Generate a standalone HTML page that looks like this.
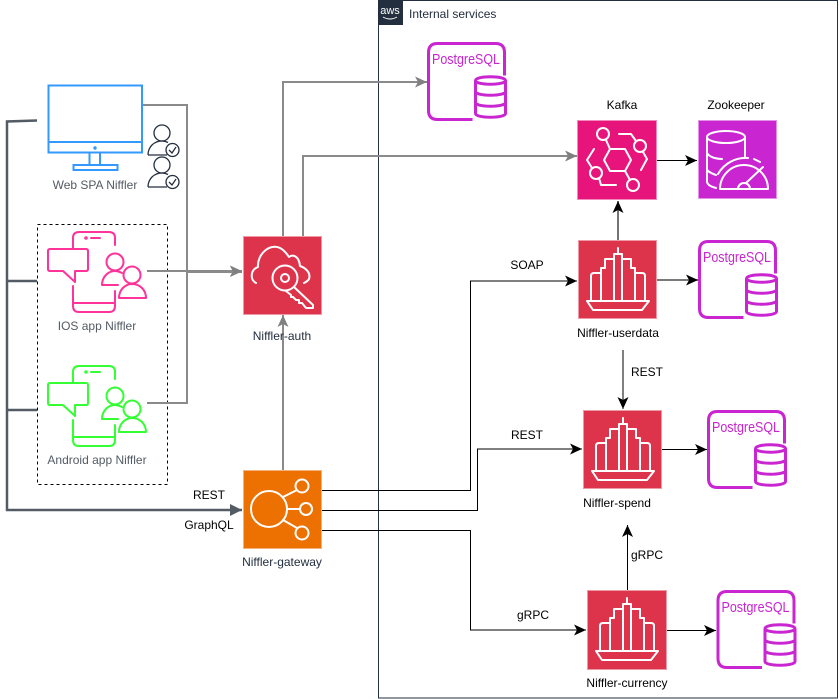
<!DOCTYPE html>
<html><head><meta charset="utf-8"><style>
html,body{margin:0;padding:0;background:#fff}
svg{display:block}
text{font-family:"Liberation Sans",sans-serif;font-size:12px;text-anchor:middle;fill:#000}
.g{fill:#545B64}.d{fill:#232F3E}
.pg{font-size:15px;fill:#C925D1;text-anchor:start}
.ic{fill:none;stroke:#fff;stroke-width:2;stroke-linejoin:round;stroke-linecap:round}
</style></head><body>
<svg width="839" height="699" viewBox="0 0 839 699" xmlns="http://www.w3.org/2000/svg">
<defs>
<marker id="k" markerUnits="userSpaceOnUse" markerWidth="14" markerHeight="12" refX="12" refY="6" orient="auto"><path d="M0,.5 L12,6 L0,11.500 L3,6Z" fill="#000"/></marker>
<marker id="y" markerUnits="userSpaceOnUse" markerWidth="14" markerHeight="12" refX="12" refY="6" orient="auto"><path d="M0,.5 L12,6 L0,11.500 L3,6Z" fill="#808080"/></marker>
<marker id="n" markerUnits="userSpaceOnUse" markerWidth="16" markerHeight="14" refX="13" refY="7" orient="auto"><path d="M1,1 L13,7 L1,13 Z" fill="#545B64"/></marker>
<g id="phone" fill="none" stroke="currentColor" stroke-width="2" stroke-linejoin="round" stroke-linecap="round">
<path d="M73,383V372Q73,366 79,366H109Q115,366 115,372V379"/>
<circle cx="86" cy="372" r=".8"/><path d="M91,372H100"/>
<path d="M73,420V440Q73,446 79,446H109Q115,446 115,440V425M73,437H115"/>
<path d="M50,383H86Q88,383 88,385V403Q88,405 86,405H75V416L63,405H50Q48,405 48,403V385Q48,383 50,383Z"/>
<circle cx="115" cy="396" r="8.500"/><path d="M102,419C102,411 108,405 115,405C118,405 120,406 122,407M102,419H118"/>
<circle cx="132" cy="409" r="8.500"/><path d="M119,432C119,424 125,418 132,418C140,418 146,424 146,432Z"/>
</g>
<g id="user" fill="none" stroke="#232F3E" stroke-width="1.300">
<circle cx="162" cy="133" r="8"/><path d="M148,155C148,147 154,141 162,141C164,141 166,141.500 168,142.500M148,155H167"/>
<circle cx="172.500" cy="150" r="6.500"/><path d="M169,150L172,153L176,147"/>
</g>
<g id="bld" class="ic"><path d="M40,8V14M36,61V14H44V61M36,19H27V28H23V61M44,19H53V28H57V61M23,33H16Q13,33 13,36V61M57,33H64Q67,33 67,36V61M9,61H71L64,70H15Z"/></g>
<g id="pgs" fill="none" stroke="#C925D1" stroke-width="3">
<path d="M44,76H9Q0,76 0,67V9Q0,0 9,0H67Q76,0 76,9V32"/>
<path d="M47,37C47,32 77,32 77,37V70C77,75 47,75 47,70ZM47,37C47,42 77,42 77,37M47,48C47,53 77,53 77,48M47,59C47,64 77,64 77,59"/>
</g>
</defs>

<!-- AWS group -->
<rect x="378.500" y="0.500" width="459" height="697.500" fill="none" stroke="#232F3E" stroke-width="1"/>
<rect x="378" y="0" width="25" height="25" fill="#232F3E"/>
<text x="390" y="14" style="font-size:11px;fill:#fff">aws</text>
<path d="M383,17Q390,21 397,17" fill="none" stroke="#fff" stroke-width="1"/>
<text x="409" y="18" class="d" style="text-anchor:start">Internal services</text>

<!-- dashed -->
<rect x="37.500" y="224.500" width="130" height="260" fill="none" stroke="#000" stroke-dasharray="3 3"/>

<!-- grey connectors -->
<g fill="none" stroke="#8a8a8a" stroke-width="2">
<path d="M142,105H187V403H147"/>
<path d="M147,271H242" marker-end="url(#y)"/>
<path d="M187,271.500H242" stroke-width="3" marker-end="url(#y)"/>
<path d="M283,236V82H427" marker-end="url(#y)"/>
<path d="M303,236V156H577" marker-end="url(#y)"/>
<path d="M283,470V315" marker-end="url(#y)"/>
</g>
<!-- dark connectors -->
<g fill="none" stroke="#545B64" stroke-width="2.500">
<path d="M37,120.500L7,121.500V510H242" marker-end="url(#n)"/>
<path d="M7,281H37M7,410H37"/>
</g>
<!-- black connectors -->
<g fill="none" stroke="#000" stroke-width="1">
<path d="M322,490.500H470.500V281H577" marker-end="url(#k)"/>
<path d="M322,510.500H477.500V449H582" marker-end="url(#k)"/>
<path d="M322,530.500H470.500V630H586" marker-end="url(#k)"/>
<path d="M657,160.500H697" marker-end="url(#k)"/>
<path d="M623,350V409" marker-end="url(#k)"/>
<path d="M662,449.500H707" marker-end="url(#k)"/>
<path d="M627.500,590V525" marker-end="url(#k)"/>
<path d="M667,630.500H716" marker-end="url(#k)"/>
</g>
<g fill="none" stroke="#666" stroke-width="1.800">
<path d="M618,240V201" marker-end="url(#k)"/>
<path d="M657,280H698" marker-end="url(#k)"/>
</g>

<!-- monitor -->
<g fill="none" stroke="#3399FF" stroke-width="2">
<rect x="48.500" y="85.500" width="93.500" height="67"/>
<path d="M48.500,142H142"/>
<path d="M89.500,153V165M100,153V165"/>
<rect x="73.500" y="165" width="44" height="5"/>
</g>
<circle cx="95" cy="148" r="1.700" fill="#3399FF"/>
<use href="#user"/><use href="#user" y="32"/>
<text x="95" y="189" class="g">Web SPA Niffler</text>

<!-- phones -->
<g style="color:#FF3399"><use href="#phone" y="-134"/></g>
<text x="97" y="330" class="g">IOS app Niffler</text>
<g style="color:#33FF33"><use href="#phone"/></g>
<text x="97" y="464" class="g">Android app Niffler</text>

<path d="M147,271H187" stroke="#8a8a8a" stroke-width="2"/>
<path d="M147,403H187" stroke="#8a8a8a" stroke-width="2" fill="none"/>

<!-- Auth -->
<rect x="243.500" y="236.500" width="78" height="78" fill="#DD344C" stroke="#EE99A5"/>
<g class="ic">
<path d="M256,283C250,280 250,270 258,267C257,254 270,243 280,248C284,250 287,254 289,257C293,254 299,256 300,266C306,268 311,273 309,279C308,281 306,282 304,283"/>
<circle cx="285" cy="278" r="12.500"/><circle cx="285" cy="278" r="4"/>
<path d="M294,287L313,305V308H306L302,303H299V300H296L293,297H291V295L286,291"/>
</g>
<text x="282" y="340" class="d">Niffler-auth</text>

<!-- Gateway -->
<rect x="243.500" y="470.500" width="78" height="78" fill="#ED7100" stroke="#F5B27A"/>
<g class="ic" transform="translate(243,470)">
<circle cx="26" cy="39" r="18"/><circle cx="59" cy="16" r="6.500"/><circle cx="63" cy="39" r="6"/><circle cx="59" cy="63" r="6.500"/>
<path d="M40,27L54,20M44,39H57M40,50L54,58"/>
</g>
<text x="282" y="566" class="d">Niffler-gateway</text>
<text x="209" y="499">REST</text>
<text x="209" y="529">GraphQL</text>

<!-- Kafka -->
<rect x="577.500" y="120.500" width="79" height="79" fill="#E7157B" stroke="#F28ABD"/>
<g class="ic" transform="translate(577,120)">
<path d="M27,40L33,29H48L54,40L48,51H33Z"/>
<circle cx="26" cy="14" r="6"/><circle cx="63" cy="26" r="6"/><circle cx="19" cy="53" r="6"/><circle cx="56" cy="65" r="6"/>
<path d="M29,20L33,29M42,14H54L59,21M66,32L70,39L64,50M17,29L10,40L15,48M22,58L24,65H39M48,51L53,60"/>
</g>
<text x="622" y="109">Kafka</text>

<!-- Zookeeper -->
<rect x="698.500" y="120.500" width="78" height="78" fill="#C925D1" stroke="#E492E8"/>
<g class="ic" transform="translate(698,120)">
<ellipse cx="28" cy="17" rx="19" ry="6"/>
<path d="M9,17V62Q10,66 18,68M47,17V38M9,33C12,38 20,39 24,39M9,50C12,53 15,54 18,55"/>
<path d="M22,69H70A24,24 0 0 0 22,69ZM40,69A6,6 0 0 1 52,69M48,63L65,47"/>
<path d="M20,54A32,32 0 0 1 50,38"/>
<path d="M56,39L62,42"/>
</g>
<text x="736" y="109">Zookeeper</text>

<!-- Service buildings -->
<rect x="578.500" y="240.500" width="78" height="78" fill="#DD344C" stroke="#EE99A5"/>
<use href="#bld" x="578" y="240"/>
<text x="618" y="337">Niffler-userdata</text>
<rect x="583.500" y="410.500" width="78" height="78" fill="#DD344C" stroke="#EE99A5"/>
<use href="#bld" x="583" y="410"/>
<text x="617" y="507">Niffler-spend</text>
<rect x="587.500" y="590.500" width="79" height="79" fill="#DD344C" stroke="#EE99A5"/>
<use href="#bld" x="587" y="590"/>
<text x="627" y="687">Niffler-currency</text>

<!-- PostgreSQL icons -->
<use href="#pgs" x="428.500" y="43.500"/>
<text x="432" y="64" class="pg" textLength="68" lengthAdjust="spacingAndGlyphs">PostgreSQL</text>
<use href="#pgs" x="699.500" y="241.500"/>
<text x="703" y="262" class="pg" textLength="68" lengthAdjust="spacingAndGlyphs">PostgreSQL</text>
<use href="#pgs" x="708.500" y="411.500"/>
<text x="712" y="432" class="pg" textLength="68" lengthAdjust="spacingAndGlyphs">PostgreSQL</text>
<use href="#pgs" x="718" y="591.500"/>
<text x="721.500" y="612" class="pg" textLength="68" lengthAdjust="spacingAndGlyphs">PostgreSQL</text>

<!-- edge labels -->
<text x="527" y="269">SOAP</text>
<text x="527" y="439">REST</text>
<text x="533" y="619">gRPC</text>
<text x="647" y="376">REST</text>
<text x="647" y="559">gRPC</text>
</svg>
</body></html>
